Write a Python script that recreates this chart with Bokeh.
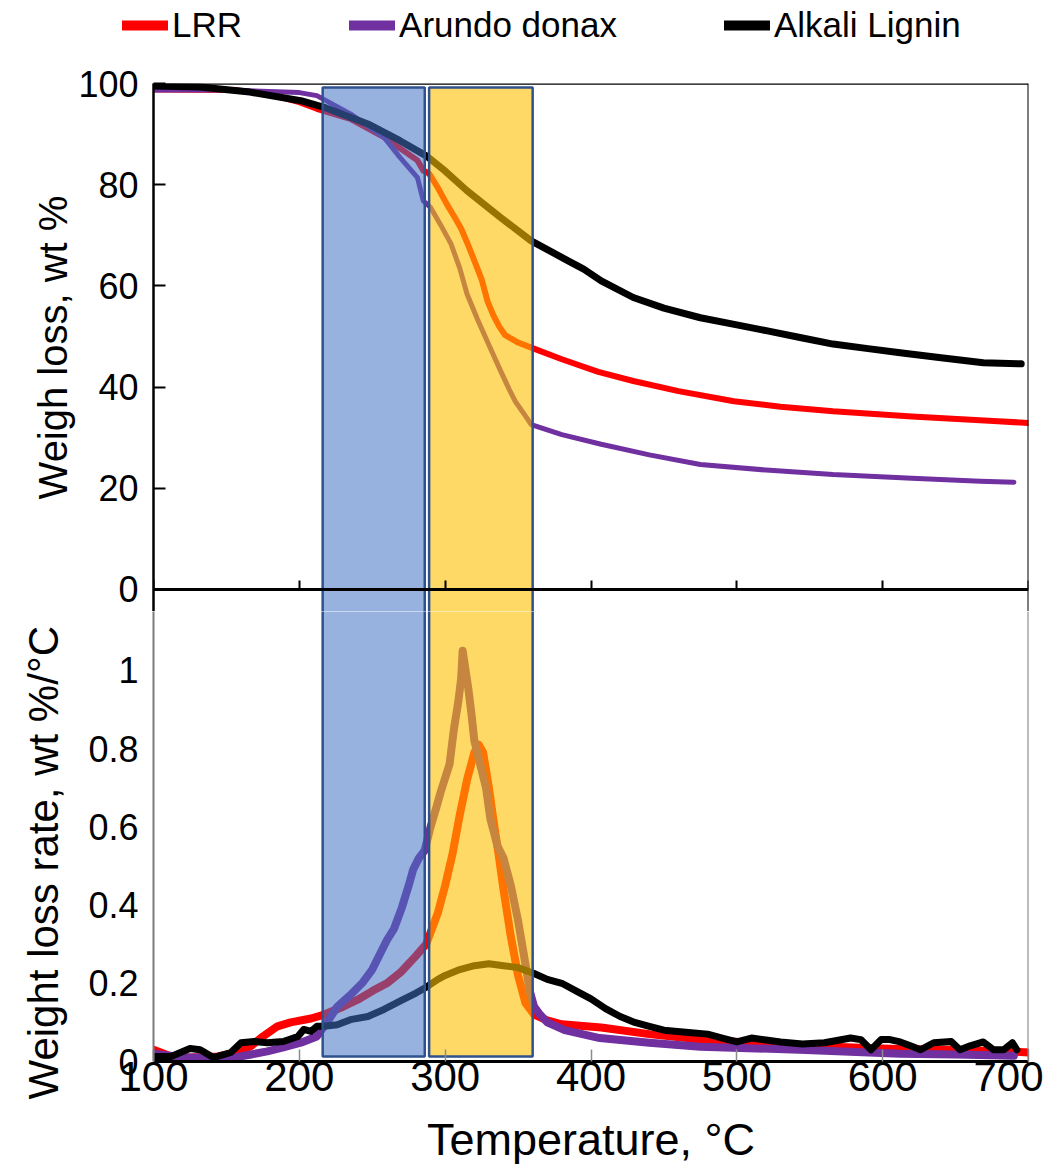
from bokeh.plotting import figure
from bokeh.layouts import column
from bokeh.models import Range1d, FixedTicker, Legend, LegendItem, Span, Title
from bokeh.embed import file_html
from bokeh.resources import INLINE

# ---------------- data ----------------
x_ticks = [100, 200, 300, 400, 500, 600, 700]
wt_ticks = [0, 20, 40, 60, 80, 100]
rate_ticks = [0, 0.2, 0.4, 0.6, 0.8, 1.0]

# shaded temperature regions (°C)
region_start = [216, 289]
region_end = [286, 360]

# TGA weight curves (wt %)
lrr_T = [100, 155, 178, 200, 212, 235, 258, 281, 285, 289, 295, 301, 306, 311, 316, 320, 325, 329, 333, 337,
         341, 345, 350, 359, 380, 405, 429, 460, 498, 530, 566, 620, 676, 700]
lrr_wt = [98.8, 98.7, 98.0, 96.3, 95.0, 93.0, 89.4, 84.8, 82.8, 82.2, 79.4, 76.2, 73.8, 71.3, 67.9, 65.0, 61.3,
          57.0, 54.2, 52.0, 50.3, 49.6, 48.8, 47.8, 45.5, 43.0, 41.2, 39.2, 37.2, 36.1, 35.2, 34.2, 33.3, 32.9]

ad_T = [100, 150, 200, 212, 235, 258, 269, 281, 285, 290, 297, 304, 310, 315, 322, 330, 338, 344, 348, 355,
        359, 380, 407, 440, 475, 520, 566, 620, 667, 690]
ad_wt = [98.7, 98.7, 98.2, 97.6, 94.0, 89.4, 85.4, 81.4, 76.8, 75.5, 72.0, 68.3, 63.5, 58.4, 53.5, 48.3, 43.2,
         39.5, 37.2, 34.3, 32.6, 30.6, 28.7, 26.6, 24.7, 23.6, 22.7, 22.0, 21.4, 21.2]

al_T = [100, 132, 166, 201, 217, 247, 269, 287, 300, 315, 338, 359, 384, 395, 407, 429, 450, 475, 500, 521,
        545, 566, 590, 612, 640, 669, 695]
al_wt = [99.5, 99.3, 98.3, 96.6, 95.3, 92.0, 88.7, 85.7, 82.7, 78.8, 73.5, 68.9, 65.0, 63.3, 61.0, 57.7, 55.6,
         53.7, 52.3, 51.1, 49.7, 48.5, 47.6, 46.8, 45.8, 44.8, 44.6]

# DTG curves (wt %/°C)
lrr_rT = [100, 105, 112, 125, 144, 158, 167, 175, 185, 194, 208, 217, 230, 240, 250, 260, 270, 280, 287, 295,
          300, 305, 310, 315, 320, 323, 326, 330, 333, 337, 340, 345, 350, 355, 361, 370, 380, 407, 440, 475,
          510, 545, 610, 650, 690, 700]
lrr_rate = [0.03, 0.023, 0.013, 0.01, 0.013, 0.023, 0.04, 0.064, 0.09, 0.10, 0.11, 0.12, 0.14, 0.158, 0.18,
            0.20, 0.23, 0.27, 0.30, 0.38, 0.45, 0.53, 0.63, 0.72, 0.79, 0.81, 0.79, 0.70, 0.62, 0.52, 0.44, 0.32,
            0.22, 0.15, 0.12, 0.105, 0.095, 0.087, 0.07, 0.056, 0.048, 0.04, 0.032, 0.03, 0.025, 0.023]

ad_rT = [100, 121, 155, 167, 178, 189, 201, 212, 219, 226, 235, 243, 250, 260, 265, 270, 275, 278, 282, 286,
         290, 294, 297, 303, 306, 309, 311, 312, 314, 316, 318, 320, 324, 328, 331, 336, 340, 345, 350, 355,
         358, 361, 365, 370, 382, 406, 440, 475, 543, 612, 650, 690]
ad_rate = [0.02, 0.01, 0.01, 0.018, 0.026, 0.036, 0.048, 0.064, 0.10, 0.14, 0.17, 0.20, 0.235, 0.31, 0.34,
           0.39, 0.45, 0.49, 0.52, 0.54, 0.60, 0.65, 0.69, 0.76, 0.85, 0.92, 0.98, 1.05, 1.00, 0.95, 0.89, 0.82,
           0.76, 0.70, 0.62, 0.55, 0.52, 0.45, 0.36, 0.25, 0.18, 0.14, 0.12, 0.10, 0.08, 0.06, 0.048, 0.038,
           0.03, 0.02, 0.018, 0.015]

al_rT = [100, 112, 125, 132, 141, 153, 160, 169, 178, 189, 199, 203, 208, 212, 217, 226, 235, 247, 258, 271,
         280, 287, 295, 300, 310, 320, 330, 340, 350, 361, 370, 380, 390, 400, 410, 420, 430, 440, 450, 465,
         480, 490, 500, 510, 520, 530, 545, 560, 578, 585, 592, 599, 605, 612, 619, 626, 635, 647, 653, 660,
         669, 676, 683, 689, 692]
al_rate = [0.013, 0.013, 0.033, 0.03, 0.01, 0.023, 0.048, 0.051, 0.048, 0.051, 0.064, 0.082, 0.077, 0.09,
           0.09, 0.094, 0.107, 0.115, 0.133, 0.158, 0.175, 0.19, 0.21, 0.22, 0.235, 0.245, 0.25, 0.245, 0.24,
           0.225, 0.21, 0.20, 0.18, 0.16, 0.135, 0.115, 0.10, 0.09, 0.08, 0.075, 0.07, 0.06, 0.05, 0.06, 0.055,
           0.05, 0.045, 0.048, 0.06, 0.056, 0.03, 0.056, 0.056, 0.05, 0.04, 0.03, 0.048, 0.051, 0.03, 0.04,
           0.05, 0.03, 0.03, 0.048, 0.03]

series_names = ["LRR", "Arundo donax", "Alkali Lignin"]

# ---------------- style ----------------
FONT = "Liberation Sans"
C_RED, C_PURPLE, C_BLACK = "#FF0000", "#7030A0", "#000000"
BLUE_FILL, YELLOW_FILL, RECT_LINE = "#4472C4", "#FFC000", "#2F528F"
GREY = "#7a7a7a"

xr = Range1d(100, 700)

# ---------------- legend strip (its ranges keep the proxy lines out of view) ----------------
p0 = figure(width=1043, height=63, x_range=Range1d(0, 1), y_range=Range1d(0, 1),
            output_backend="svg", toolbar_location=None,
            min_border_left=0, min_border_right=0, min_border_top=0, min_border_bottom=0)
p0.frame_align = False
p0.axis.visible = False
p0.grid.visible = False
p0.outline_line_color = None
leg_renderers = [p0.line(xs, ys, line_color=c, line_width=10, line_cap="round")
                 for xs, ys, c in ((lrr_T, lrr_wt, C_RED), (ad_T, ad_wt, C_PURPLE), (al_T, al_wt, C_BLACK))]
legend = Legend(items=[LegendItem(label=n, renderers=[r]) for n, r in zip(series_names, leg_renderers)],
                orientation="horizontal", location=(122, 18), margin=0,
                glyph_width=46, glyph_height=20, label_standoff=4, spacing=107, padding=0,
                label_text_font=FONT, label_text_font_size="35px", label_text_color="black",
                background_fill_alpha=0, border_line_alpha=0)
p0.add_layout(legend, "center")

# ---------------- top panel ----------------
p1 = figure(width=1043, height=548, x_range=xr, y_range=Range1d(-4.36, 100),
            output_backend="svg", toolbar_location=None,
            min_border_left=153, min_border_right=15, min_border_top=20, min_border_bottom=0)

p1.line(lrr_T, lrr_wt, line_color=C_RED, line_width=6, line_cap="round", line_join="round")
p1.line(ad_T, ad_wt, line_color=C_PURPLE, line_width=5, line_cap="round", line_join="round")
p1.line(al_T, al_wt, line_color=C_BLACK, line_width=7, line_cap="round", line_join="round")

p1.quad(left=region_start[:1], right=region_end[:1], bottom=[-20], top=[99.2],
        fill_color=BLUE_FILL, fill_alpha=0.55, line_color=RECT_LINE, line_width=2.5)
p1.quad(left=region_start[1:], right=region_end[1:], bottom=[-20], top=[99.2],
        fill_color=YELLOW_FILL, fill_alpha=0.6, line_color=RECT_LINE, line_width=2.5)

p1.xgrid.visible = False
p1.ygrid.visible = False
p1.outline_line_color = None
p1.add_layout(Span(location=wt_ticks[-1], dimension="width", line_color="black", line_width=2.5))
p1.add_layout(Span(location=x_ticks[-1], dimension="height", line_color="black", line_width=2))

p1.xaxis.fixed_location = 0
p1.xaxis.ticker = FixedTicker(ticks=x_ticks)
p1.xaxis.major_label_overrides = {t: "" for t in x_ticks}
p1.xaxis.major_label_text_font_size = "1px"
p1.xaxis.major_label_standoff = 0
p1.xaxis.major_tick_in = 9
p1.xaxis.major_tick_out = 0
p1.xaxis.minor_tick_line_color = None
p1.xaxis.axis_line_width = 3
p1.xaxis.major_tick_line_width = 2

p1.yaxis.ticker = FixedTicker(ticks=wt_ticks)
p1.yaxis.major_tick_in = 12
p1.yaxis.major_tick_out = 0
p1.yaxis.major_tick_line_width = 2
p1.yaxis.minor_tick_line_color = None
p1.yaxis.axis_line_width = 2.5
p1.yaxis.major_label_standoff = 15
p1.yaxis.major_label_text_font = FONT
p1.yaxis.major_label_text_font_size = "36px"
p1.yaxis.major_label_text_color = "black"
p1.yaxis.axis_label = "Weigh loss, wt %"
p1.yaxis.axis_label_text_font = FONT
p1.yaxis.axis_label_text_font_size = "40px"
p1.yaxis.axis_label_text_font_style = "normal"
p1.yaxis.axis_label_text_color = "black"
p1.yaxis.axis_label_standoff = 0

# ---------------- bottom panel ----------------
p2 = figure(width=1043, height=556, x_range=xr, y_range=Range1d(0, 1.1505),
            output_backend="svg", toolbar_location=None,
            min_border_left=153, min_border_right=15, min_border_top=0, min_border_bottom=105)

p2.line(lrr_rT, lrr_rate, line_color=C_RED, line_width=8, line_cap="round", line_join="round")
p2.line(ad_rT, ad_rate, line_color=C_PURPLE, line_width=8, line_cap="round", line_join="round")
p2.line(al_rT, al_rate, line_color=C_BLACK, line_width=7, line_cap="round", line_join="round")

p2.quad(left=region_start[:1], right=region_end[:1], bottom=[0.013], top=[2],
        fill_color=BLUE_FILL, fill_alpha=0.55, line_color=RECT_LINE, line_width=2.5)
p2.quad(left=region_start[1:], right=region_end[1:], bottom=[0.013], top=[2],
        fill_color=YELLOW_FILL, fill_alpha=0.6, line_color=RECT_LINE, line_width=2.5)

p2.xgrid.visible = False
p2.ygrid.visible = False
p2.outline_line_color = None
p2.add_layout(Span(location=x_ticks[-1], dimension="height", line_color=GREY, line_width=2))

p2.xaxis.ticker = FixedTicker(ticks=x_ticks)
p2.xaxis.major_tick_in = 12
p2.xaxis.major_tick_out = 0
p2.xaxis.major_tick_line_color = "#8c8c8c"
p2.xaxis.major_tick_line_width = 1.5
p2.xaxis.minor_tick_line_color = None
p2.xaxis.axis_line_width = 3
p2.xaxis.major_label_standoff = 0
p2.xaxis.major_label_text_font = FONT
p2.xaxis.major_label_text_font_size = "42px"
p2.xaxis.major_label_text_color = "black"
p2.xaxis.axis_label = "Temperature, °C"
p2.xaxis.axis_label_text_font = FONT
p2.xaxis.axis_label_text_font_size = "45px"
p2.xaxis.axis_label_text_font_style = "normal"
p2.xaxis.axis_label_text_color = "black"
p2.xaxis.axis_label_standoff = 20

p2.yaxis.ticker = FixedTicker(ticks=rate_ticks)
p2.yaxis.major_label_overrides = {0: "0", 1: "1"}
p2.yaxis.major_tick_in = 0
p2.yaxis.major_tick_out = 0
p2.yaxis.minor_tick_line_color = None
p2.yaxis.axis_line_color = GREY
p2.yaxis.axis_line_width = 2
p2.yaxis.major_label_standoff = 15
p2.yaxis.major_label_text_font = FONT
p2.yaxis.major_label_text_font_size = "36px"
p2.yaxis.major_label_text_color = "black"

rate_title = Title(text="Weight loss rate, wt %/°C", align="left", offset=-38, standoff=34,
                   vertical_align="top", text_font=FONT, text_font_size="42px",
                   text_font_style="normal", text_color="black")
p2.add_layout(rate_title, "left")

layout = column(p0, p1, p2, spacing=0)
open("out.html", "w").write(file_html(layout, INLINE))
